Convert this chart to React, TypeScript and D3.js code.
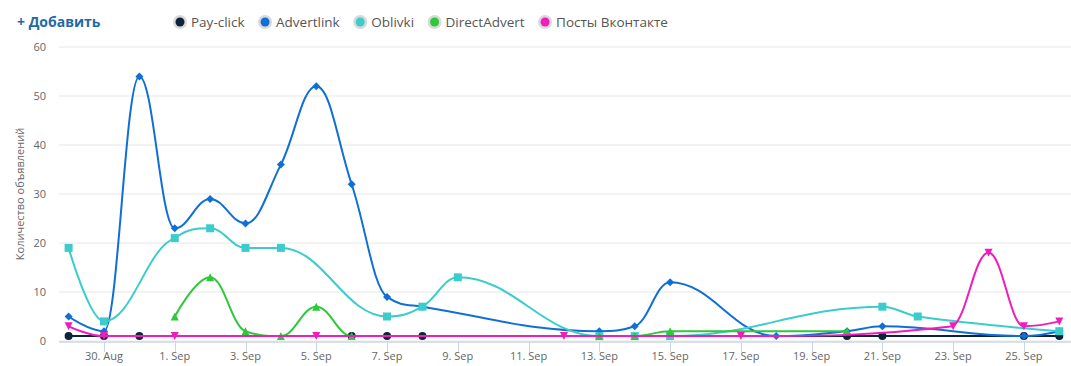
import React, { useEffect, useRef } from "react";
import * as d3 from "d3";

// [date (MM-DD), value]
const payClick: [string, number][] = [
	["08-29", 1], ["08-30", 1], ["08-31", 1], ["09-06", 1], ["09-07", 1],
	["09-08", 1], ["09-20", 1], ["09-21", 1], ["09-25", 1], ["09-26", 1],
];
const advertlink: [string, number][] = [
	["08-29", 5], ["08-30", 2], ["08-31", 54], ["09-01", 23], ["09-02", 29],
	["09-03", 24], ["09-04", 36], ["09-05", 52], ["09-06", 32], ["09-07", 9],
	["09-08", 7], ["09-13", 2], ["09-14", 3], ["09-15", 12], ["09-18", 1],
	["09-20", 2], ["09-21", 3], ["09-25", 1], ["09-26", 2],
];
const oblivki: [string, number][] = [
	["08-29", 19], ["08-30", 4], ["09-01", 21], ["09-02", 23], ["09-03", 19],
	["09-04", 19], ["09-07", 5], ["09-08", 7], ["09-09", 13], ["09-13", 1],
	["09-14", 1], ["09-15", 1], ["09-21", 7], ["09-22", 5], ["09-26", 2],
];
const directAdvert: [string, number][] = [
	["09-01", 5], ["09-02", 13], ["09-03", 2], ["09-04", 1], ["09-05", 7],
	["09-06", 1], ["09-13", 1], ["09-14", 1], ["09-15", 2], ["09-20", 2],
];
const postsVk: [string, number][] = [
	["08-29", 3], ["08-30", 1], ["09-01", 1], ["09-05", 1], ["09-12", 1],
	["09-17", 1], ["09-23", 3], ["09-24", 18], ["09-25", 3], ["09-26", 4],
];

const seriesNames = ["Pay-click", "Advertlink", "Oblivki", "DirectAdvert", "Посты Вконтакте"];
const seriesData = [payClick, advertlink, oblivki, directAdvert, postsVk];
const seriesColors = ["#0d233a", "#0f6fd6", "#3ccccc", "#2ec83a", "#f01cbc"];
const seriesSymbols = ["circle", "diamond", "square", "triangle", "triangle-down"];

const yTicks = [0, 10, 20, 30, 40, 50, 60];
const xTickDates = [
	"08-30", "09-01", "09-03", "09-05", "09-07", "09-09", "09-11",
	"09-13", "09-15", "09-17", "09-19", "09-21", "09-23", "09-25",
];

const toDate = (s: string) => new Date(`2015-${s}T00:00:00Z`);

// Highcharts-like spline
const hcSpline = (context: any) => {
	let pts: [number, number][] = [];
	return {
		areaStart() {},
		areaEnd() {},
		lineStart() {
			pts = [];
		},
		point(x: number, y: number) {
			pts.push([+x, +y]);
		},
		lineEnd() {
			const sm = 1.5;
			const den = sm + 1;
			const lc: ([number, number] | null)[] = [];
			const rc: ([number, number] | null)[] = [];
			pts.forEach((p, i) => {
				const prev = pts[i - 1];
				const next = pts[i + 1];
				if (!prev || !next) {
					lc.push(null);
					rc.push(null);
					return;
				}
				const [px, py] = p;
				const lx = (sm * px + prev[0]) / den;
				let ly = (sm * py + prev[1]) / den;
				const rx = (sm * px + next[0]) / den;
				let ry = (sm * py + next[1]) / den;
				if (rx !== lx) {
					const corr = ((ry - ly) * (rx - px)) / (rx - lx) + py - ry;
					ly += corr;
					ry += corr;
					if (ly > prev[1] && ly > py) {
						ly = Math.max(prev[1], py);
						ry = 2 * py - ly;
					} else if (ly < prev[1] && ly < py) {
						ly = Math.min(prev[1], py);
						ry = 2 * py - ly;
					}
					if (ry > next[1] && ry > py) {
						ry = Math.max(next[1], py);
						ly = 2 * py - ry;
					} else if (ry < next[1] && ry < py) {
						ry = Math.min(next[1], py);
						ly = 2 * py - ry;
					}
				}
				lc.push([lx, ly]);
				rc.push([rx, ry]);
			});
			pts.forEach((p, i) => {
				if (i === 0) {
					context.moveTo(p[0], p[1]);
					return;
				}
				const a = rc[i - 1] || pts[i - 1];
				const b = lc[i] || p;
				context.bezierCurveTo(a[0], a[1], b[0], b[1], p[0], p[1]);
			});
		},
	};
};

const markerPath = (type: string, cx: number, cy: number, r = 4) => {
	const p = d3.path();
	if (type === "circle") {
		p.arc(cx, cy, r, 0, Math.PI * 2);
	} else if (type === "square") {
		p.rect(cx - r, cy - r, r * 2, r * 2);
	} else if (type === "diamond") {
		p.moveTo(cx, cy - r);
		p.lineTo(cx + r, cy);
		p.lineTo(cx, cy + r);
		p.lineTo(cx - r, cy);
		p.closePath();
	} else if (type === "triangle") {
		p.moveTo(cx, cy - r);
		p.lineTo(cx + r, cy + r);
		p.lineTo(cx - r, cy + r);
		p.closePath();
	} else {
		p.moveTo(cx - r, cy - r);
		p.lineTo(cx + r, cy - r);
		p.lineTo(cx, cy + r);
		p.closePath();
	}
	return p.toString();
};

const App: React.FC = () => {
	const svgRef = useRef<SVGSVGElement | null>(null);
	const width = 1071;
	const height = 366;

	useEffect(() => {
		const svg = d3.select(svgRef.current);
		svg.selectAll("*").remove();
		const font = "'Open Sans', sans-serif";

		const plotLeft = 59;
		const plotRight = 1071;

		const x = d3
			.scaleUtc()
			.domain([toDate("08-29"), toDate("09-26")])
			.range([68.6, 1059.3]);
		const y = d3.scaleLinear().domain([0, 60]).range([341, 47]);

		// grid
		svg.append("g")
			.selectAll("line")
			.data(yTicks)
			.enter()
			.append("line")
			.attr("x1", plotLeft)
			.attr("x2", plotRight)
			.attr("y1", (d) => y(d))
			.attr("y2", (d) => y(d))
			.attr("stroke", "#e6e6e6")
			.attr("stroke-width", 1);

		// y labels
		svg.append("g")
			.selectAll("text")
			.data(yTicks)
			.enter()
			.append("text")
			.attr("x", 46)
			.attr("y", (d) => y(d) + 4)
			.attr("text-anchor", "end")
			.attr("font-family", font)
			.attr("font-size", 11)
			.attr("fill", "#666")
			.text((d) => d);

		svg.append("text")
			.attr("transform", `translate(24,${(y(0) + y(60)) / 2}) rotate(-90)`)
			.attr("text-anchor", "middle")
			.attr("font-family", font)
			.attr("font-size", 11)
			.attr("fill", "#666")
			.text("Количество объявлений");

		// x axis
		const axisY = 342;
		svg.append("line")
			.attr("x1", plotLeft)
			.attr("x2", plotRight)
			.attr("y1", axisY)
			.attr("y2", axisY)
			.attr("stroke", "#ccd6eb")
			.attr("stroke-width", 1.5);

		const fmt = d3.utcFormat("%-d. %b");
		const xt = svg.append("g");
		xt.selectAll("line")
			.data(xTickDates)
			.enter()
			.append("line")
			.attr("x1", (d) => Math.round(x(toDate(d))) + 0.5)
			.attr("x2", (d) => Math.round(x(toDate(d))) + 0.5)
			.attr("y1", axisY)
			.attr("y2", axisY + 10)
			.attr("stroke", "#ccd6eb");
		xt.selectAll("text")
			.data(xTickDates)
			.enter()
			.append("text")
			.attr("x", (d) => x(toDate(d)))
			.attr("y", 360)
			.attr("text-anchor", "middle")
			.attr("font-family", font)
			.attr("font-size", 11)
			.attr("fill", "#666")
			.text((d) => fmt(toDate(d)));

		// series
		const line = d3
			.line<[string, number]>()
			.x((d) => x(toDate(d[0])))
			.y((d) => y(d[1]))
			.curve(hcSpline as any);

		seriesData.forEach((data, i) => {
			const g = svg.append("g");
			g.append("path")
				.attr("d", line(data))
				.attr("fill", "none")
				.attr("stroke", seriesColors[i])
				.attr("stroke-width", 2)
				.attr("stroke-linejoin", "round")
				.attr("stroke-linecap", "round");
			g.selectAll("path.m")
				.data(data)
				.enter()
				.append("path")
				.attr("class", "m")
				.attr("d", (d) => markerPath(seriesSymbols[i], x(toDate(d[0])), y(d[1])))
				.attr("fill", seriesColors[i]);
		});

		// header
		svg.append("text")
			.attr("x", 17)
			.attr("y", 27)
			.attr("font-family", font)
			.attr("font-size", 14)
			.attr("font-weight", "bold")
			.attr("fill", "#1f6aa6")
			.text("+ Добавить");

		// legend
		let lx = 180;
		seriesNames.forEach((name, i) => {
			const g = svg.append("g");
			g.append("circle")
				.attr("cx", lx)
				.attr("cy", 22)
				.attr("r", 7)
				.attr("fill", "#d9d9d9");
			g.append("circle")
				.attr("cx", lx)
				.attr("cy", 22)
				.attr("r", 4.5)
				.attr("fill", seriesColors[i]);
			const t = g
				.append("text")
				.attr("x", lx + 11)
				.attr("y", 27)
				.attr("font-family", font)
				.attr("font-size", 13.5)
				.attr("fill", "#555")
				.text(name);
			const w = (t.node() as SVGTextElement).getComputedTextLength();
			lx = lx + 11 + w + 20.5;
		});
	}, []);

	return (
		<svg
			ref={svgRef}
			width={width}
			height={height}
			style={{ position: "absolute", left: 0, top: 0, background: "#fff" }}
		></svg>
	);
};

export default App;
